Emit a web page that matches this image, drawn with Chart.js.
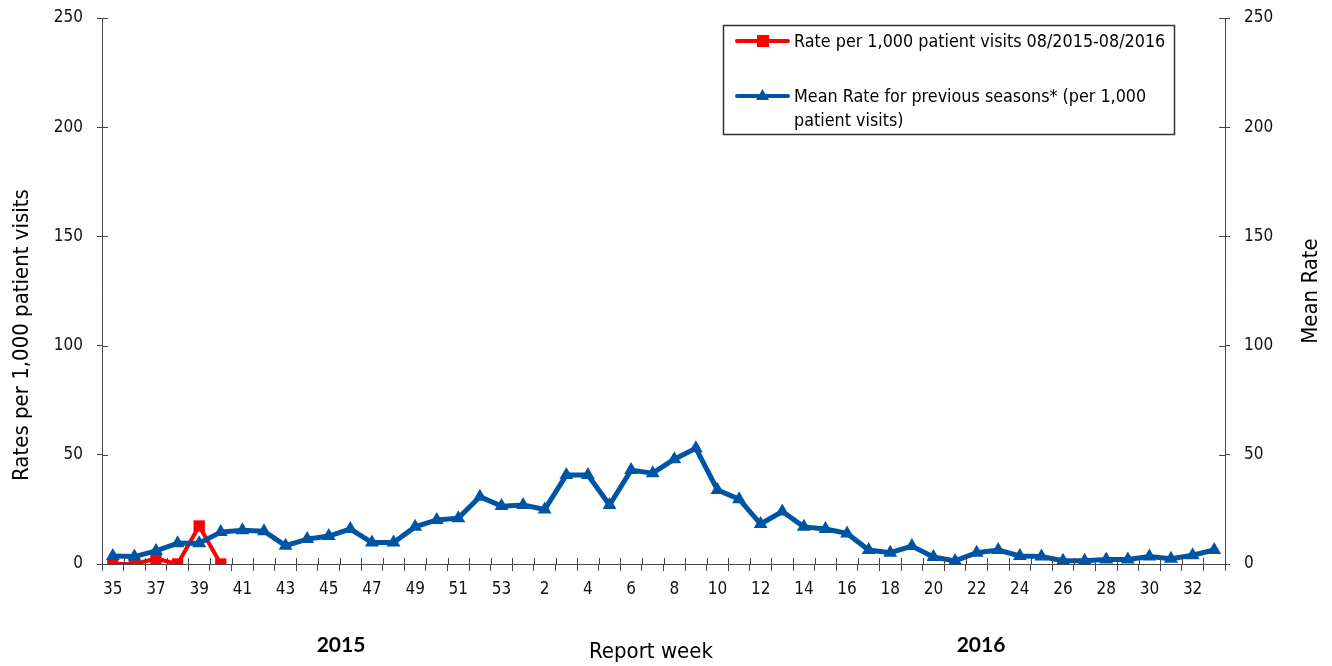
<!DOCTYPE html>
<html>
<head>
<meta charset="utf-8">
<script src="https://cdn.jsdelivr.net/npm/chart.js@4/dist/chart.umd.min.js"></script>
<style>
  html, body { margin: 0; padding: 0; background: #fff; }
  #wrap { width: 1332px; height: 666px; }
</style>
</head>
<body>
<div id="wrap"><canvas id="fluChart" width="1332" height="666"></canvas></div>
<script>
// semanas del informe (35-53 de 2015, 1-33 de 2016)
const weeks = ['35','36','37','38','39','40','41','42','43','44','45','46','47','48','49','50','51','52','53',
  '1','2','3','4','5','6','7','8','9','10','11','12','13','14','15','16','17','18','19','20',
  '21','22','23','24','25','26','27','28','29','30','31','32','33'];

// tasa actual (solo hasta la semana 40)
const currentRate = [0, 0, 2.5, 0, 17.4, 0];

// media de temporadas anteriores
const meanRate = [3.7, 3.4, 6, 9.5, 9.5, 14.6, 15.5, 15, 8.4, 11.4, 12.8, 16, 9.8, 9.8, 17, 20.2, 21,
  30.8, 26.5, 27, 25, 40.7, 40.7, 27, 43, 41.6, 48, 53, 33.9, 29.7, 18.3, 24, 17, 16, 14, 6.4,
  5.2, 8.2, 3.2, 1.4, 5.2, 6.4, 3.7, 3.4, 1.5, 1.5, 2.1, 2.1, 3.4, 2.4, 4, 6.4];

const yTicks = [0, 50, 100, 150, 200, 250];

const NARROW = "'Liberation Sans Narrow', 'DejaVu Sans Condensed', sans-serif";
const AXIS_COLOR = '#444';
const RED = '#ff0000';
const BLUE = '#0054a4';

// Dibuja marcas cruzadas, títulos y leyenda
const extrasPlugin = {
    id: 'extras',
    afterDraw(chart) {
        const ctx = chart.ctx;
        const area = chart.chartArea;
        const x = chart.scales.x;
        const y = chart.scales.y;
        ctx.save();

        // parte interior de las marcas
        ctx.strokeStyle = AXIS_COLOR;
        ctx.lineWidth = 1;
        ctx.beginPath();
        for (let i = 0; i <= weeks.length; i++) {
            const px = Math.round(x.getPixelForValue(i - 0.5)) + 0.5;
            ctx.moveTo(px, area.bottom);
            ctx.lineTo(px, area.bottom - 6);
        }
        yTicks.forEach(function (v) {
            const py = Math.round(y.getPixelForValue(v)) + 0.5;
            ctx.moveTo(area.left, py);
            ctx.lineTo(area.left + 6, py);
            ctx.moveTo(area.right, py);
            ctx.lineTo(area.right - 6, py);
        });
        ctx.stroke();

        // títulos de ejes
        ctx.fillStyle = '#000';
        ctx.font = '22px ' + NARROW;
        ctx.textAlign = 'center';
        ctx.textBaseline = 'middle';
        ctx.fillText('Report week', 651, 652);

        ctx.save();
        ctx.translate(22, 335);
        ctx.rotate(-Math.PI / 2);
        ctx.fillText('Rates per 1,000 patient visits', 0, 0);
        ctx.restore();

        ctx.save();
        ctx.translate(1311, 291);
        ctx.rotate(-Math.PI / 2);
        ctx.fillText('Mean Rate', 0, 0);
        ctx.restore();

        ctx.font = 'bold 21px Lato, sans-serif';
        ctx.fillText('2015', 341, 645);
        ctx.fillText('2016', 981, 645);

        // leyenda
        ctx.fillStyle = '#fff';
        ctx.fillRect(723, 25, 452, 110);
        ctx.strokeStyle = '#333';
        ctx.lineWidth = 1.5;
        ctx.strokeRect(723.5, 25.5, 451, 109);

        ctx.lineCap = 'round';
        ctx.strokeStyle = RED;
        ctx.lineWidth = 4;
        ctx.beginPath();
        ctx.moveTo(737, 41);
        ctx.lineTo(788, 41);
        ctx.stroke();
        ctx.fillStyle = RED;
        ctx.fillRect(757, 35, 12, 12);

        ctx.strokeStyle = BLUE;
        ctx.lineWidth = 4;
        ctx.beginPath();
        ctx.moveTo(737, 96);
        ctx.lineTo(788, 96);
        ctx.stroke();
        ctx.fillStyle = BLUE;
        ctx.beginPath();
        ctx.moveTo(762.5, 89);
        ctx.lineTo(769, 100);
        ctx.lineTo(756, 100);
        ctx.closePath();
        ctx.fill();

        ctx.fillStyle = '#000';
        ctx.font = '17.8px ' + NARROW;
        ctx.textAlign = 'left';
        ctx.fillText('Rate per 1,000 patient visits 08/2015-08/2016', 794, 42);
        ctx.fillText('Mean Rate for previous seasons* (per 1,000', 794, 97);
        ctx.fillText('patient visits)', 794, 121);

        ctx.restore();
    }
};

// ancho fijo y sin relleno extra para los ejes verticales
function fitVertical(width) {
    return function (scale) {
        scale.width = width;
        scale.paddingTop = 0;
        scale.paddingBottom = 0;
    };
}

document.addEventListener("DOMContentLoaded", function () {
    const ctx = document.getElementById('fluChart').getContext('2d');

    new Chart(ctx, {
        type: 'line',
        data: {
            labels: weeks,
            datasets: [{
                label: 'Mean Rate for previous seasons* (per 1,000 patient visits)',
                data: meanRate,
                yAxisID: 'y1',
                order: 0,
                borderColor: BLUE,
                backgroundColor: BLUE,
                borderWidth: 5,
                tension: 0,
                pointStyle: 'triangle',
                pointRadius: 8,
                pointBorderWidth: 0
            }, {
                label: 'Rate per 1,000 patient visits 08/2015-08/2016',
                data: currentRate,
                yAxisID: 'y',
                order: 1,
                borderColor: RED,
                backgroundColor: RED,
                borderWidth: 4,
                tension: 0,
                pointStyle: 'rect',
                pointRadius: 8,
                pointBorderWidth: 0
            }]
        },
        options: {
            responsive: false,
            animation: false,
            layout: { padding: { top: 18, left: 0, right: 0, bottom: 0 } },
            plugins: {
                legend: { display: false },
                tooltip: { enabled: false }
            },
            scales: {
                x: {
                    offset: true,
                    afterFit: function (scale) {
                        scale.height = 102;
                        scale.paddingLeft = 0;
                        scale.paddingRight = 0;
                    },
                    border: { color: AXIS_COLOR, width: 1 },
                    grid: {
                        offset: true,
                        drawOnChartArea: false,
                        tickLength: 7,
                        color: AXIS_COLOR
                    },
                    ticks: {
                        autoSkip: false,
                        maxRotation: 0,
                        padding: 8,
                        color: '#111',
                        font: { family: NARROW, size: 17 },
                        callback: function (value, index) {
                            return index % 2 === 0 ? weeks[index] : '';
                        }
                    }
                },
                y: {
                    position: 'left',
                    min: 0,
                    max: 250,
                    afterFit: fitVertical(102),
                    border: { color: AXIS_COLOR, width: 1 },
                    grid: { drawOnChartArea: false, tickLength: 5, color: AXIS_COLOR },
                    ticks: {
                        stepSize: 50,
                        padding: 14,
                        color: '#111',
                        font: { family: NARROW, size: 17 }
                    }
                },
                y1: {
                    position: 'right',
                    min: 0,
                    max: 250,
                    afterFit: fitVertical(107),
                    border: { color: AXIS_COLOR, width: 1 },
                    grid: { drawOnChartArea: false, tickLength: 5, color: AXIS_COLOR },
                    ticks: {
                        stepSize: 50,
                        padding: 14,
                        color: '#111',
                        font: { family: NARROW, size: 17 }
                    }
                }
            }
        },
        plugins: [extrasPlugin]
    });
});
</script>
</body>
</html>
